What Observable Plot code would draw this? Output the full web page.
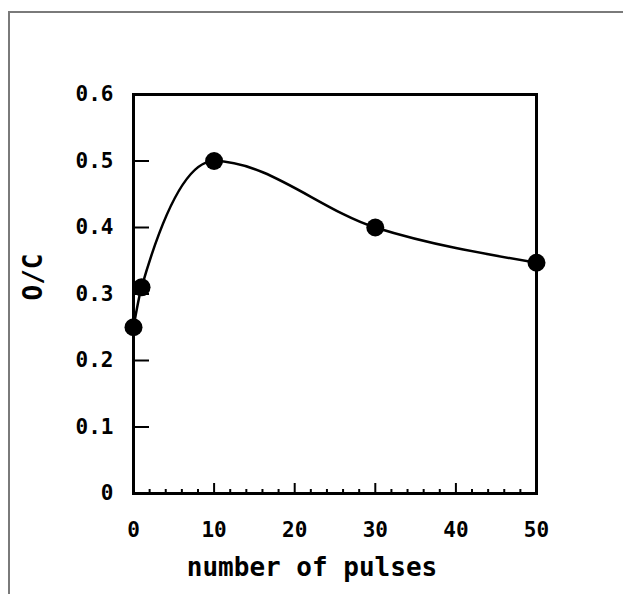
<!DOCTYPE html>
<html>
<head>
<meta charset="utf-8">
<script src="https://cdn.jsdelivr.net/npm/d3@7"></script>
<script src="https://cdn.jsdelivr.net/npm/@observablehq/plot@0.6"></script>
<style>
  html, body { margin: 0; padding: 0; background: #fff; overflow: hidden; }
  #wrap { position: relative; width: 623px; height: 594px; }
  #border { position: absolute; left: 8px; top: 11px; width: 640px; height: 600px;
            border-top: 2px solid #7a7a7a; border-left: 2px solid #7a7a7a; }
  #chart { position: absolute; left: 0; top: 0; }
</style>
</head>
<body>
<div id="wrap"><div id="border"></div><div id="chart"></div></div>
<script>
const pulses = [0, 1, 10, 30, 50];
const ocRatio = [0.25, 0.31, 0.50, 0.40, 0.347];
const xMajorTicks = [10, 20, 30, 40];
const xMinorTicks = [2, 4, 6, 8, 12, 14, 16, 18, 22, 24, 26, 28, 32, 34, 36, 38, 42, 44, 46, 48];
const xTickLabels = [0, 10, 20, 30, 40, 50];
const yTicks = [0.1, 0.2, 0.3, 0.4, 0.5];
const yTickLabels = [0, 0.1, 0.2, 0.3, 0.4, 0.5, 0.6];
const xLabel = "number of pulses";
const yLabel = "O/C";

const data = pulses.map((p, i) => ({x: p, y: ocRatio[i]}));

const chart = Plot.plot({
  width: 623,
  height: 594,
  marginLeft: 133,
  marginTop: 94,
  marginRight: 87,
  marginBottom: 101,
  style: {fontFamily: "DejaVu Sans Mono", fontWeight: "bold", fontSize: "21px", color: "#000", background: "transparent"},
  x: {domain: [0, 50]},
  y: {domain: [0, 0.6]},
  marks: [
    Plot.axisX(xTickLabels, {tickSize: 0, tickPadding: 29, tickFormat: d => String(d), label: null, fontSize: 21}),
    Plot.axisX(xMajorTicks, {tickSize: -10, tickFormat: () => "", label: null, strokeWidth: 2}),
    Plot.axisX(xMinorTicks, {tickSize: -4, tickFormat: () => "", label: null, strokeWidth: 2}),
    Plot.axisY(yTickLabels, {tickSize: 0, tickPadding: 20, tickFormat: d => d === 0 ? "0" : d.toFixed(1), label: null, fontSize: 21}),
    Plot.axisY(yTicks, {tickSize: -16, tickFormat: () => "", label: null, strokeWidth: 2}),
    Plot.line(data, {x: "x", y: "y", curve: "monotone-x", stroke: "#000", strokeWidth: 2.5}),
    Plot.dot(data, {x: "x", y: "y", r: 9, fill: "#000", stroke: null}),
    Plot.frame({stroke: "#000", strokeWidth: 3}),
    Plot.text([xLabel], {text: d => d, frameAnchor: "bottom", textAnchor: "middle", dx: -23, dy: 82, fontSize: 26, fontWeight: "bold"}),
    Plot.text([yLabel], {text: d => d, frameAnchor: "left", textAnchor: "middle", dx: -100, dy: -17, rotate: -90, fontSize: 26, fontWeight: "bold"})
  ]
});
document.getElementById("chart").appendChild(chart);
</script>
</body>
</html>
